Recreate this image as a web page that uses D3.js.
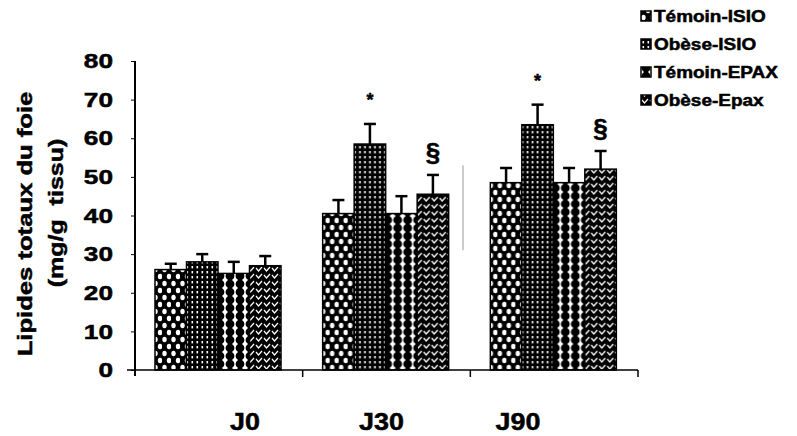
<!DOCTYPE html>
<html>
<head>
<meta charset="utf-8">
<script src="https://cdn.jsdelivr.net/npm/d3@7"></script>
<style>
  html, body { margin: 0; padding: 0; background: #fff; }
  svg { display: block; font-family: "Liberation Sans", Arial, sans-serif; font-weight: bold; }
  text { fill: #000; stroke: #000; stroke-width: 0.5px; }
</style>
</head>
<body>
<svg id="chart" width="797" height="436"></svg>
<script>
// Liver total lipids per group and day
const categories = ["J0", "J30", "J90"];
const seriesNames = ["Témoin-ISIO", "Obèse-ISIO", "Témoin-EPAX", "Obèse-Epax"];
const temoinIsio = [26, 40.5, 48.5];
const obeseIsio = [28, 58.5, 63.5];
const temoinEpax = [25, 40.5, 48.5];
const obeseEpax = [27, 45.5, 52];
const errTemoinIsio = [1.5, 3.5, 3.8];
const errObeseIsio = [2, 5.2, 5.2];
const errTemoinEpax = [3, 4.5, 3.8];
const errObeseEpax = [2.5, 5, 4.7];
const yTicks = [0, 10, 20, 30, 40, 50, 60, 70, 80];
const yTitle = "Lipides totaux du foie";
const yUnit = "(mg/g  tissu)";
// significance marks: [series index, category index, symbol]
const marks = [[1, 1, "*"], [3, 1, "§"], [1, 2, "*"], [3, 2, "§"]];

const values = [temoinIsio, obeseIsio, temoinEpax, obeseEpax];
const errors = [errTemoinIsio, errObeseIsio, errTemoinEpax, errObeseEpax];

// the typeface is a wide grotesque: stretch the glyphs along the text direction
const wide = 1.25;

const svg = d3.select("#chart");
const defs = svg.append("defs");

// Fill patterns for the four groups
function pat(id, w, h, draw, bg) {
  const p = defs.append("pattern").attr("id", id).attr("patternUnits", "userSpaceOnUse")
    .attr("width", w).attr("height", h);
  p.append("rect").attr("width", w).attr("height", h).attr("fill", bg);
  draw(p);
}
// staggered white ovals on black
pat("p0", 9, 14, p => {
  p.append("ellipse").attr("cx", 2.5).attr("cy", 3.5).attr("rx", 2.2).attr("ry", 2.8).attr("fill", "#fff");
  p.append("ellipse").attr("cx", 7).attr("cy", 10.5).attr("rx", 2.2).attr("ry", 2.8).attr("fill", "#fff");
}, "#000");
// fine grid of white specks on black
pat("p1", 5, 5, p => {
  p.append("rect").attr("x", 1.5).attr("y", 1).attr("width", 1.6).attr("height", 2.4).attr("fill", "#fff");
}, "#000");
// columns of black beads on white
pat("p2", 10, 8, p => {
  p.append("circle").attr("cx", 5).attr("cy", 4).attr("r", 4.4).attr("fill", "#000");
  p.append("rect").attr("x", 4).attr("y", 0).attr("width", 2).attr("height", 8).attr("fill", "#000");
}, "#fff");
// white chevrons on black
pat("p3", 8, 7, p => {
  p.append("path").attr("d", "M1,2 L3.5,5 L7,1").attr("fill", "none")
    .attr("stroke", "#fff").attr("stroke-width", 1.2);
}, "#000");
const fills = ["url(#p0)", "url(#p1)", "url(#p2)", "url(#p3)"];

const plotLeft = 135, plotRight = 638, plotTop = 61, plotBottom = 370;
const x0 = d3.scaleBand().domain(categories).range([plotLeft, plotRight]).padding(0);
const x1 = d3.scaleBand().domain(d3.range(seriesNames.length)).range([20, 146]).padding(0);
const y = d3.scaleLinear().domain([0, 80]).range([plotBottom, plotTop]);
const labelX = d3.scalePoint().domain(categories).range([245, 518]);

// bars with error caps
categories.forEach((c, ci) => {
  const g = svg.append("g").attr("transform", `translate(${x0(c)},0)`);
  seriesNames.forEach((s, si) => {
    const v = values[si][ci], e = errors[si][ci];
    const bx = x1(si), bw = x1.bandwidth();
    const cx = bx + bw / 2;
    g.append("line").attr("x1", cx).attr("x2", cx).attr("y1", y(v)).attr("y2", y(v + e))
      .attr("stroke", "#000").attr("stroke-width", 2.5);
    g.append("line").attr("x1", cx - 6).attr("x2", cx + 6).attr("y1", y(v + e)).attr("y2", y(v + e))
      .attr("stroke", "#000").attr("stroke-width", 2.5);
    g.append("rect").attr("x", bx).attr("y", y(v)).attr("width", bw).attr("height", y(0) - y(v))
      .attr("fill", fills[si]).attr("stroke", "#000").attr("stroke-width", 1.5);
  });
});

// significance symbols
marks.forEach(([si, ci, sym]) => {
  const cx = x0(categories[ci]) + x1(si) + x1.bandwidth() / 2;
  const yt = y(values[si][ci] + errors[si][ci]);
  svg.append("text").attr("x", cx).attr("y", sym === "*" ? yt - 18 : yt - 14).attr("text-anchor", "middle")
    .attr("font-size", sym === "*" ? 18 : 26).text(sym);
});

// faint separator stroke
svg.append("line").attr("x1", 463).attr("x2", 463).attr("y1", y(53)).attr("y2", y(31))
  .attr("stroke", "#999").attr("stroke-width", 1);

// y axis
const yAxis = svg.append("g").attr("transform", `translate(${plotLeft},0)`)
  .call(d3.axisLeft(y).tickValues(yTicks).tickSize(4));
yAxis.select(".domain").attr("stroke-width", 2).attr("d", `M0,${plotTop}V${plotBottom + 6}`);
yAxis.selectAll(".tick line").attr("stroke-width", 1);
yAxis.selectAll(".tick text").attr("x", null).attr("font-size", 21)
  .attr("font-family", "Liberation Sans, Arial").attr("font-weight", "bold")
  .attr("transform", `translate(-22,0) scale(${wide},1)`);

// x axis
const xAxis = svg.append("g").attr("transform", `translate(0,${plotBottom})`);
xAxis.append("line").attr("x1", plotLeft - 8).attr("x2", plotRight).attr("y1", 0).attr("y2", 0)
  .attr("stroke", "#000").attr("stroke-width", 1.5);
xAxis.selectAll("line.tk").data(categories).join("line").attr("class", "tk")
  .attr("x1", d => x0(d) + x0.bandwidth()).attr("x2", d => x0(d) + x0.bandwidth())
  .attr("y1", 0).attr("y2", 7).attr("stroke", "#000").attr("stroke-width", 1.5);
xAxis.selectAll("text").data(categories).join("text")
  .attr("transform", d => `translate(${labelX(d)},60) scale(1.12,1)`).attr("text-anchor", "middle")
  .attr("font-size", 24).text(d => d);

// y axis title
svg.append("text").attr("transform", `translate(32,224) rotate(-90) scale(${wide},1)`)
  .attr("text-anchor", "middle").attr("font-size", 20.5).text(yTitle);
svg.append("text").attr("transform", `translate(63,213) rotate(-90) scale(${wide},1)`)
  .attr("text-anchor", "middle").attr("font-size", 20).attr("xml:space", "preserve").text(yUnit);

// legend
const lg = svg.append("g").attr("transform", "translate(641,0)");
seriesNames.forEach((s, i) => {
  const yy = 17 + i * 28;
  lg.append("rect").attr("x", 0).attr("y", yy - 6).attr("width", 10).attr("height", 10)
    .attr("fill", fills[i]).attr("stroke", "#000").attr("stroke-width", 1.5);
  lg.append("text").attr("transform", `translate(13,${yy + 5}) scale(1.15,1)`)
    .attr("font-size", 16.5).text(s);
});
</script>
</body>
</html>
